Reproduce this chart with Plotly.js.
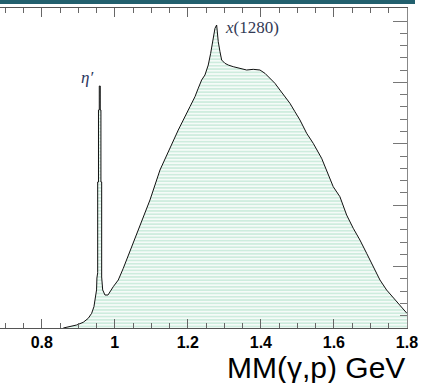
<!DOCTYPE html>
<html>
<head>
<meta charset="utf-8">
<script src="https://cdn.plot.ly/plotly-3.0.1.min.js"></script>
<style>
html,body{margin:0;padding:0;background:#fff;}
#chart{width:424px;height:383px;}
</style>
</head>
<body>
<div id="chart"></div>
<script>
// Missing mass MM(gamma,p) in GeV (bin edges/points)
const massGeV = [
  0.8589, 0.8772, 0.8956, 0.9136, 0.9273, 0.9366, 0.9429, 0.9470, 0.9500, 0.9510,
  0.9531, 0.9531, 0.9553, 0.9553, 0.9575, 0.9575, 0.9602, 0.9602, 0.9620, 0.9620,
  0.9640, 0.9640, 0.9668, 0.9731, 0.9813, 0.9958, 1.0095, 1.0232, 1.0415, 1.0779,
  1.0963, 1.1237, 1.1738, 1.2058, 1.2195, 1.2285, 1.2378, 1.2469, 1.2559, 1.2625,
  1.2696, 1.2743, 1.2789, 1.2833, 1.2880, 1.2926, 1.3016, 1.3107, 1.3244, 1.3427,
  1.3611, 1.3791, 1.3975, 1.4112, 1.4249, 1.4386, 1.4522, 1.4659, 1.4796, 1.4933,
  1.5070, 1.5254, 1.5434, 1.5664, 1.5801, 1.5982, 1.6165, 1.6349, 1.6530, 1.6713,
  1.6896, 1.7077, 1.7261, 1.7444, 1.7671, 1.8000
];
// Counts (arbitrary units: the y labels are cut off in the reference)
const counts = [
  0, 21, 49, 93, 158, 239, 347, 505, 620, 814,
  900, 2378, 2378, 3550, 3550, 3941, 3941, 3550, 3550, 2378,
  2378, 831, 620, 537, 537, 673, 782, 972, 1243, 1813,
  2085, 2573, 3225, 3604, 3767, 3904, 4039, 4121, 4283, 4474,
  4691, 4881, 4935, 4663, 4500, 4365, 4311, 4283, 4256, 4230,
  4202, 4213, 4202, 4148, 4067, 3985, 3876, 3767, 3660, 3523,
  3388, 3171, 3008, 2764, 2573, 2301, 2138, 1840, 1624, 1433,
  1217, 998, 782, 619, 456, 239
];
const xTickVals = [0.8, 1.0, 1.2, 1.4, 1.6, 1.8];
const xTickText = ["0.8", "1", "1.2", "1.4", "1.6", "1.8"];
const peakLabels = ["η′", "<i>x</i>(1280)"];
const peakLabelX = [0.9238, 1.2962];
const peakLabelY = [4088, 4902];
const xTitle = "MM(γ,p) GeV";

const trace = {
  type: "scatter",
  mode: "lines",
  x: massGeV,
  y: counts,
  line: {color: "#111111", width: 1, shape: "linear"},
  fill: "tozeroy",
  fillcolor: "#eaf6f0",
  fillpattern: {shape: "-", size: 3.3, solidity: 0.3, fgcolor: "#b4e2cd", bgcolor: "#f5fbf8"},
  hoverinfo: "skip"
};

const layout = {
  width: 424, height: 383,
  margin: {l: 0, r: 17, t: 8, b: 55, pad: 0},
  paper_bgcolor: "#ffffff",
  plot_bgcolor: "#ffffff",
  showlegend: false,
  font: {family: "Liberation Sans, Arial, sans-serif", color: "#000"},
  xaxis: {
    range: [0.6856, 1.8002],
    tickmode: "array", tickvals: xTickVals, ticktext: xTickText,
    ticks: "inside", ticklen: 9, tickwidth: 1, tickcolor: "#666",
    minor: {dtick: 0.05, tick0: 0, ticks: "inside", ticklen: 5, tickcolor: "#666", tickwidth: 1},
    showline: true, linecolor: "#555", linewidth: 1, mirror: "ticks",
    showgrid: false, zeroline: false,
    tickfont: {family: "Liberation Sans, Arial, sans-serif", size: 16, color: "#000", weight: "bold"},
    ticklabelstandoff: 0
  },
  yaxis: {
    range: [0, 5212],
    side: "right",
    dtick: 1000, tick0: 0,
    ticks: "inside", ticklen: 14, tickwidth: 1, tickcolor: "#777",
    minor: {dtick: 200, ticks: "inside", ticklen: 7.5, tickcolor: "#777", tickwidth: 1},
    showticklabels: false,
    showline: true, linecolor: "#888", linewidth: 1, mirror: false,
    showgrid: false, zeroline: false
  },
  shapes: [{
    type: "rect", xref: "paper", yref: "paper",
    x0: 0, x1: 415/407, y0: 1 + 4/320, y1: 1 + 8/320,
    fillcolor: "#22606e", line: {width: 0}, layer: "above"
  }],
  annotations: [
    {text: xTitle, xref: "paper", yref: "paper", x: 1, y: -0.122,
     xanchor: "right", yanchor: "middle", showarrow: false,
     font: {family: "Liberation Sans, Arial, sans-serif", size: 30, color: "#000"}},
    {text: peakLabels[0], xref: "x", yref: "y", x: peakLabelX[0], y: peakLabelY[0],
     xanchor: "center", yanchor: "middle", showarrow: false,
     font: {family: "Liberation Serif, Times New Roman, serif", size: 17, color: "#2a3560", style: "italic"}},
    {text: peakLabels[1], xref: "x", yref: "y", x: peakLabelX[1], y: peakLabelY[1],
     xanchor: "left", yanchor: "middle", showarrow: false,
     font: {family: "Liberation Serif, Times New Roman, serif", size: 17, color: "#333a55"}}
  ]
};

Plotly.newPlot("chart", [trace], layout, {displayModeBar: false, staticPlot: true});
</script>
</body>
</html>
